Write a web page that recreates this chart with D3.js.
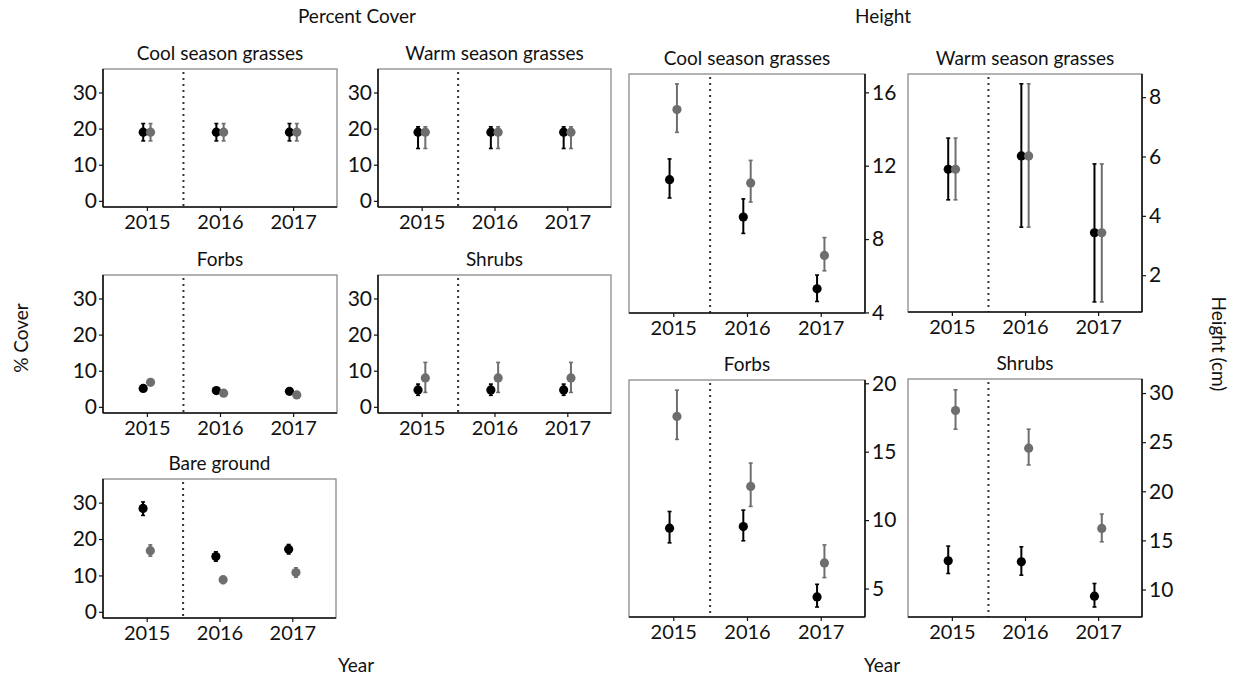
<!DOCTYPE html>
<html>
<head>
<meta charset="utf-8">
<script src="https://cdn.jsdelivr.net/npm/d3@7"></script>
<style>
  html, body { margin: 0; padding: 0; background: #fff; }
  svg { display: block; font-family: Lato, "Open Sans", sans-serif; }
</style>
</head>
<body>
<svg id="chart" width="1239" height="680"></svg>
<script>
// ---------------- DATA ----------------
const years = ["2015", "2016", "2017"];
const seriesNames = ["Black", "Grey"];

// Percent cover, [mean, lower, upper] per year
const coverCoolBlack   = [[19.0, 16.6, 21.4], [19.0, 16.6, 21.4], [19.0, 16.6, 21.4]];
const coverCoolGrey    = [[19.0, 16.6, 21.4], [19.0, 16.6, 21.4], [19.0, 16.6, 21.4]];
const coverWarmBlack   = [[19.0, 14.5, 20.5], [19.0, 14.5, 20.5], [19.0, 14.5, 20.5]];
const coverWarmGrey    = [[19.0, 14.5, 20.5], [19.0, 14.5, 20.5], [19.0, 14.5, 20.5]];
const coverForbsBlack  = [[5.1, 4.6, 5.6], [4.5, 4.0, 5.0], [4.3, 3.8, 4.8]];
const coverForbsGrey   = [[6.8, 6.3, 7.3], [3.8, 3.3, 4.3], [3.3, 2.8, 3.8]];
const coverShrubsBlack = [[4.7, 3.2, 6.3], [4.7, 3.2, 6.3], [4.7, 3.2, 6.3]];
const coverShrubsGrey  = [[8.0, 4.0, 12.3], [8.0, 4.0, 12.3], [8.0, 4.0, 12.3]];
const coverBareBlack   = [[28.4, 26.5, 30.2], [15.2, 13.9, 16.5], [17.2, 15.9, 18.5]];
const coverBareGrey    = [[16.8, 15.3, 18.4], [8.8, 7.8, 9.8], [10.8, 9.5, 12.1]];

// Height (cm), [mean, lower, upper] per year
const heightCoolBlack   = [[11.24, 10.24, 12.37], [9.20, 8.31, 10.19], [5.29, 4.60, 6.04]];
const heightCoolGrey    = [[15.06, 13.82, 16.46], [11.06, 10.02, 12.29], [7.11, 6.27, 8.08]];
const heightWarmBlack   = [[5.57, 4.54, 6.62], [6.02, 3.62, 8.45], [3.43, 1.10, 5.75]];
const heightWarmGrey    = [[5.57, 4.54, 6.62], [6.02, 3.62, 8.45], [3.43, 1.10, 5.75]];
const heightForbsBlack  = [[9.41, 8.34, 10.63], [9.53, 8.49, 10.73], [4.39, 3.65, 5.31]];
const heightForbsGrey   = [[17.58, 15.90, 19.50], [12.46, 11.00, 14.17], [6.87, 5.80, 8.19]];
const heightShrubsBlack = [[12.92, 11.63, 14.42], [12.82, 11.46, 14.35], [9.32, 8.22, 10.61]];
const heightShrubsGrey  = [[28.22, 26.32, 30.33], [24.39, 22.68, 26.32], [16.22, 14.86, 17.68]];

// Tick labels
const coverTicks       = [0, 10, 20, 30];
const heightCoolTicks  = [4, 8, 12, 16];
const heightWarmTicks  = [2, 4, 6, 8];
const heightForbsTicks = [5, 10, 15, 20];
const heightShrubTicks = [10, 15, 20, 25, 30];

// Axis ranges (value domain of each panel)
const coverDomain       = [-1.7, 36.5];
const heightCoolDomain  = [3.97, 17.0];
const heightWarmDomain  = [0.76, 8.78];
const heightForbsDomain = [2.92, 20.24];
const heightShrubDomain = [7.2, 31.43];

// ---------------- LAYOUT ----------------
const svg = d3.select("#chart");
const BLACK = "#000000", GREY = "#6e6e6e";
const colors = [BLACK, GREY];
const FONT = "Lato, 'Open Sans', sans-serif";

const panels = [
  {title: "Cool season grasses", x0: 103, x1: 337, y0: 69,  y1: 207, side: "left",  domain: coverDomain, ticks: coverTicks, series: [coverCoolBlack, coverCoolGrey]},
  {title: "Warm season grasses", x0: 378, x1: 611, y0: 69,  y1: 207, side: "left",  domain: coverDomain, ticks: coverTicks, series: [coverWarmBlack, coverWarmGrey]},
  {title: "Forbs",               x0: 103, x1: 337, y0: 275, y1: 413, side: "left",  domain: coverDomain, ticks: coverTicks, series: [coverForbsBlack, coverForbsGrey]},
  {title: "Shrubs",              x0: 378, x1: 611, y0: 275, y1: 413, side: "left",  domain: coverDomain, ticks: coverTicks, series: [coverShrubsBlack, coverShrubsGrey]},
  {title: "Bare ground",         x0: 103, x1: 336, y0: 479, y1: 618, side: "left",  domain: coverDomain, ticks: coverTicks, series: [coverBareBlack, coverBareGrey]},
  {title: "Cool season grasses", x0: 629, x1: 865, y0: 74,  y1: 313, side: "right", domain: heightCoolDomain,  ticks: heightCoolTicks,  series: [heightCoolBlack, heightCoolGrey]},
  {title: "Warm season grasses", x0: 908, x1: 1142, y0: 74, y1: 312, side: "right", domain: heightWarmDomain,  ticks: heightWarmTicks,  series: [heightWarmBlack, heightWarmGrey]},
  {title: "Forbs",               x0: 629, x1: 865, y0: 380, y1: 617, side: "right", domain: heightForbsDomain, ticks: heightForbsTicks, series: [heightForbsBlack, heightForbsGrey]},
  {title: "Shrubs",              x0: 908, x1: 1142, y0: 379, y1: 617, side: "right", domain: heightShrubDomain, ticks: heightShrubTicks, series: [heightShrubsBlack, heightShrubsGrey]}
];

panels.forEach(p => {
  const g = svg.append("g");
  const x = d3.scalePoint().domain(years).range([p.x0, p.x1]).padding(0.6);
  const y = d3.scaleLinear().domain(p.domain).range([p.y1, p.y0]);
  const step = x.step();
  const dodge = step * 0.05;

  // frame (light sides)
  g.append("rect")
    .attr("x", p.x0).attr("y", p.y0)
    .attr("width", p.x1 - p.x0).attr("height", p.y1 - p.y0)
    .attr("fill", "none").attr("stroke", "#8a8a8a").attr("stroke-width", 1.3);

  // dotted separator between 2015 and 2016
  const sepX = x(years[0]) + step / 2;
  g.append("line")
    .attr("x1", sepX).attr("x2", sepX)
    .attr("y1", p.y0 + 3).attr("y2", p.y1)
    .attr("stroke", "#333").attr("stroke-width", 2)
    .attr("stroke-dasharray", "2,4");

  // axes
  const yAxis = (p.side === "left" ? d3.axisLeft(y) : d3.axisRight(y))
    .tickValues(p.ticks).tickSize(4).tickSizeOuter(0).tickPadding(p.side === "left" ? 2 : 3);
  const ya = g.append("g")
    .attr("transform", `translate(${p.side === "left" ? p.x0 : p.x1},0)`)
    .call(yAxis);
  const xa = g.append("g")
    .attr("transform", `translate(0,${p.y1})`)
    .call(d3.axisBottom(x).tickSize(4).tickSizeOuter(0).tickPadding(4));

  [ya, xa].forEach(a => {
    a.select(".domain").attr("stroke", "#111").attr("stroke-width", 1.6);
    a.selectAll(".tick line").attr("stroke", "#111").attr("stroke-width", 1.2);
    a.selectAll(".tick text").attr("fill", "#111").style("font-family", FONT);
  });
  ya.selectAll(".tick text").style("font-size", "21px");
  xa.selectAll(".tick text").style("font-size", "20px");
  // extend domain lines to panel corners
  ya.select(".domain").attr("d", `M0,${p.y0}V${p.y1}`);
  xa.select(".domain").attr("d", `M${p.x0},0H${p.x1}`);

  // title
  g.append("text")
    .attr("x", (p.x0 + p.x1) / 2).attr("y", p.y0 - 9)
    .attr("text-anchor", "middle")
    .style("font-size", "19px").attr("fill", "#111")
    .text(p.title);

  // error bars then points
  p.series.forEach((s, si) => {
    const off = si === 0 ? -dodge : dodge;
    s.forEach((d, i) => {
      const cx = x(years[i]) + off;
      g.append("line")
        .attr("x1", cx).attr("x2", cx)
        .attr("y1", y(d[1])).attr("y2", y(d[2]))
        .attr("stroke", colors[si]).attr("stroke-width", 2);
      [d[1], d[2]].forEach(v => {
        g.append("line")
          .attr("x1", cx - 2).attr("x2", cx + 2)
          .attr("y1", y(v)).attr("y2", y(v))
          .attr("stroke", colors[si]).attr("stroke-width", 1.6);
      });
    });
  });
  p.series.forEach((s, si) => {
    const off = si === 0 ? -dodge : dodge;
    g.selectAll(null).data(s).enter().append("circle")
      .attr("cx", (d, i) => x(years[i]) + off)
      .attr("cy", d => y(d[0]))
      .attr("r", 4.6)
      .attr("fill", colors[si]);
  });
});

// ---------------- overall labels ----------------
const lab = (txt, xx, yy, rot, size) => {
  const t = svg.append("text")
    .attr("text-anchor", "middle")
    .style("font-size", (size || 19) + "px").attr("fill", "#111")
    .text(txt);
  if (rot) t.attr("transform", `translate(${xx},${yy}) rotate(${rot})`);
  else t.attr("x", xx).attr("y", yy);
};
lab("Percent Cover", 357, 23);
lab("Height", 883, 23);
lab("% Cover", 28, 338, -90);
lab("Height (cm)", 1212, 344, 90);
lab("Year", 356, 672);
lab("Year", 882, 672);
</script>
</body>
</html>
